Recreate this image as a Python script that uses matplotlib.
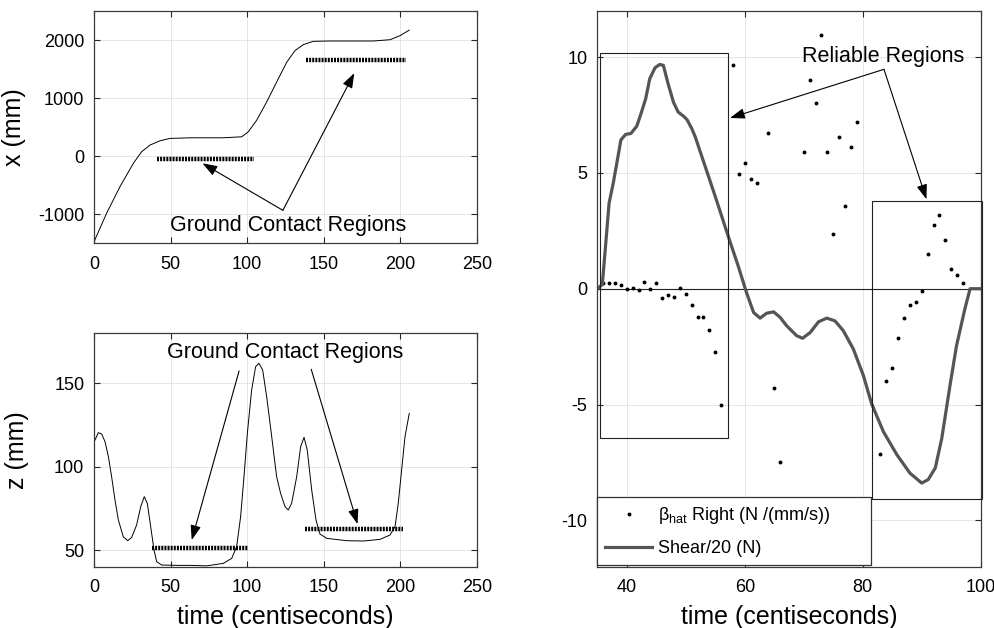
import matplotlib
matplotlib.use("Agg")
import matplotlib.pyplot as plt
from matplotlib.patches import Rectangle

plt.rcParams['font.family'] = ['Liberation Sans', 'DejaVu Sans']
plt.rcParams['mathtext.fontset'] = 'custom'
plt.rcParams['mathtext.rm'] = 'Liberation Sans'
plt.rcParams['mathtext.it'] = 'Liberation Sans:italic'
plt.rcParams['axes.unicode_minus'] = False

# ---- top-left: x position (mm) vs time ----
x_t = [0, 0.65, 8.3, 17, 25.7, 31.1, 36.6, 43.1, 49.6, 62.7, 84.4, 96.4, 100.7,
       106.2, 112.7, 119.2, 125.8, 131.2, 136.6, 143.1, 154, 182.3, 193.2,
       199.7, 205.8]
x_mm = [-1500, -1440, -983, -526, -126, 74, 189, 263, 303, 314, 314, 331, 417,
        617, 931, 1274, 1617, 1817, 1920, 1977, 1983, 1983, 2005, 2074, 2171]
x_contact_t = [[41, 104.7], [138.5, 203.6]]
x_contact_y = [-57, 1663]

# ---- bottom-left: z position (mm) vs time ----
z_t = [0, 0.65, 2.8, 5, 7.2, 9.4, 11.5, 13.7, 15.9, 19.1, 22, 24.6, 27.8, 30.5,
       32.8, 34.8, 37, 39.2, 40.9, 44.2, 54, 62.7, 73.5, 84.4, 89.9, 93.1,
       95.7, 97.9, 100.1, 102.9, 105.5, 107.7, 110.1, 112.7, 116, 119.2,
       121.8, 124.7, 126.8, 129, 132.3, 134.9, 137.1, 139.2, 142.1, 144.9,
       147.5, 151.9, 164.9, 175.8, 186.7, 193.2, 196.5, 198.6, 200.8, 203,
       205.8]
z_mm = [115, 116, 120.4, 119.6, 115, 106, 94, 80, 68, 58, 55.6, 57.6, 65, 76,
        82, 78, 64, 50, 43, 41, 40.8, 40.8, 40.5, 42, 45, 52,
        70, 94, 120, 146, 160, 162, 158, 142, 118, 94,
        84, 76, 74, 78, 94, 112, 117.6, 110, 86, 68,
        59.6, 57, 55.6, 55.4, 56.4, 59, 64, 78, 98, 118,
        132]
z_contact_t = [[37.7, 100.8], [137.8, 201.7]]
z_contact_y = [51.4, 62.8]

# ---- right: beta_hat and shear/20 ----
shear_t = [35, 35.2, 35.85, 36.3, 37, 37.7, 38.3, 39, 39.8, 40.7, 41.7, 42.5,
           43.2, 43.9, 44.8, 45.6, 46.2, 47, 47.9, 48.7, 49.6, 50.2, 51, 51.6,
           53.3, 55, 57.2, 58.9, 60.3, 61.5, 62.6, 63.7, 64.9, 66, 67.1, 68.8,
           69.8, 71.1, 72.5, 73.9, 75.3, 76.7, 78.4, 80.1, 81.5, 83.5, 85.8,
           88, 90, 91.1, 92.3, 93.4, 94.8, 95.9, 97.3, 98.2, 100]
shear_v = [0, 0.04, 0.18, 1.55, 3.7, 4.55, 5.41, 6.42, 6.66, 6.7, 7.02, 7.63,
           8.2, 9.07, 9.54, 9.68, 9.64, 8.85, 8.06, 7.63, 7.45, 7.3, 6.92, 6.56,
           5.27, 3.98, 2.26, 0.97, -0.17, -1.03, -1.27, -1.06, -1.0, -1.24,
           -1.6, -2.03, -2.14, -1.89, -1.43, -1.27, -1.39, -1.81, -2.6, -3.74,
           -4.96, -6.17, -7.17, -7.96, -8.39, -8.24, -7.74, -6.46, -4.17,
           -2.46, -0.89, 0, 0]
beta_t = [36, 37, 38, 39, 40, 41, 42, 43, 44, 45, 46, 47, 48, 49, 50, 51, 52,
          53, 54, 55, 56, 58, 59, 60, 61, 62, 64, 65, 66, 70, 71, 72, 73, 74,
          75, 76, 77, 78, 79, 83, 84, 85, 86, 87, 88, 89, 90, 91, 92, 93, 94,
          95, 96, 97]
beta_v = [0.23, 0.23, 0.23, 0.14, 0, 0.03, -0.06, 0.29, 0, 0.24, -0.4, -0.26,
          -0.34, 0.04, -0.21, -0.72, -1.24, -1.24, -1.8, -2.74, -5.03, 9.64,
          4.97, 5.44, 4.74, 4.56, 6.71, -4.3, -7.5, 5.89, 9.0, 8.01, 10.97,
          5.89, 2.36, 6.54, 3.57, 6.11, 7.2, -7.13, -4.0, -3.44, -2.14, -1.27,
          -0.71, -0.56, -0.1, 1.5, 2.73, 3.17, 2.11, 0.86, 0.6, 0.23]
# reliable regions: (t0, t1, y0, y1)
regions = [(35.5, 57.1, -6.46, 10.16), (81.5, 100.2, -9.07, 3.8)]

W, H = 994, 628
fig = plt.figure(figsize=(W / 100, H / 100), dpi=100)

def px_axes(l, t, r, b):
    return fig.add_axes([l / W, 1 - b / H, (r - l) / W, (b - t) / H])

ax1 = px_axes(94, 11, 477, 243)
ax2 = px_axes(94, 333.3, 477, 566.7)
ax3 = px_axes(597.3, 10.7, 980.7, 566.7)

TICK_FS = 13
LABEL_FS = 18
ANN_FS = 15.5

def style(ax):
    ax.grid(True, color='#e0e0e0', lw=0.6)
    ax.set_axisbelow(True)
    ax.tick_params(direction='in', top=True, right=True, length=4,
                   labelsize=TICK_FS, width=0.8, color='#262626')
    ax.tick_params(axis='x', pad=9)
    ax.tick_params(axis='y', pad=7)
    for s in ax.spines.values():
        s.set_color('#3a3a3a')
        s.set_linewidth(0.9)

arrow_kw = dict(arrowstyle='-|>,head_length=0.9,head_width=0.32',
                lw=0.8, color='black', shrinkA=0, shrinkB=0)
dot_kw = dict(color='black', lw=3.2, dashes=(0.45, 0.25), solid_capstyle='butt',
              dash_capstyle='butt')

# top-left
ax1.plot(x_t, x_mm, color='black', lw=0.7)
for tt, yy in zip(x_contact_t, x_contact_y):
    ax1.plot(tt, [yy, yy], **dot_kw)
ax1.set_xlim(0, 250)
ax1.set_ylim(-1500, 2500)
ax1.set_xticks([0, 50, 100, 150, 200, 250])
ax1.set_yticks([-1000, 0, 1000, 2000])
ax1.set_ylabel('x (mm)', fontsize=LABEL_FS, labelpad=9)
style(ax1)
ax1.text(126.5, -1200, 'Ground Contact Regions', fontsize=ANN_FS,
         ha='center', va='center')
ax1.annotate('', xy=(70.8, -126), xytext=(123.3, -937), arrowprops=arrow_kw)
ax1.annotate('', xy=(169.9, 1429), xytext=(123.3, -937), arrowprops=arrow_kw)

# bottom-left
ax2.plot(z_t, z_mm, color='black', lw=0.7)
for tt, yy in zip(z_contact_t, z_contact_y):
    ax2.plot(tt, [yy, yy], **dot_kw)
ax2.set_xlim(0, 250)
ax2.set_ylim(40, 180)
ax2.set_xticks([0, 50, 100, 150, 200, 250])
ax2.set_yticks([50, 100, 150])
ax2.set_ylabel('z (mm)', fontsize=LABEL_FS, labelpad=18)
ax2.set_xlabel('time (centiseconds)', fontsize=LABEL_FS, labelpad=6)
style(ax2)
ax2.text(125, 168.6, 'Ground Contact Regions', fontsize=ANN_FS,
         ha='center', va='center')
ax2.annotate('', xy=(63.8, 56), xytext=(94.7, 157.4), arrowprops=arrow_kw)
ax2.annotate('', xy=(172, 65.6), xytext=(141.8, 158.4), arrowprops=arrow_kw)

# right
ax3.axhline(0, color='#202020', lw=0.8, zorder=1)
ax3.plot(beta_t, beta_v, ls='none', marker='o', ms=1.8, color='black',
         label=r'β$_{\mathrm{hat}}$ Right (N /(mm/s))')
ax3.plot(shear_t, shear_v, color='#555555', lw=2.3,
         label='Shear/20 (N)')
for t0, t1, y0, y1 in regions:
    ax3.add_patch(Rectangle((t0, y0), t1 - t0, y1 - y0, fill=False,
                            ec='#202020', lw=0.8, clip_on=False, zorder=3))
ax3.set_xlim(35, 100)
ax3.set_ylim(-12, 12)
ax3.set_xticks([40, 60, 80, 100])
ax3.set_yticks([-10, -5, 0, 5, 10])
ax3.set_xlabel('time (centiseconds)', fontsize=LABEL_FS, labelpad=6)
style(ax3)
ax3.text(83.5, 10.04, 'Reliable Regions', fontsize=ANN_FS,
         ha='center', va='center')
ax3.annotate('', xy=(57.5, 7.37), xytext=(83.6, 9.47), arrowprops=arrow_kw)
ax3.annotate('', xy=(90.8, 3.86), xytext=(83.6, 9.47), arrowprops=arrow_kw)
leg = ax3.legend(loc='lower left', bbox_to_anchor=(0.0, 0.003, 0.714, 0.118),
                 mode='expand', borderaxespad=0, fontsize=13, fancybox=False,
                 edgecolor='#333333', framealpha=1, handlelength=2.6,
                 handletextpad=0.3, labelspacing=0.75, borderpad=0.45,
                 markerscale=1.0)
leg.get_frame().set_linewidth(0.9)

fig.savefig('out.png', dpi=100, facecolor='white')
